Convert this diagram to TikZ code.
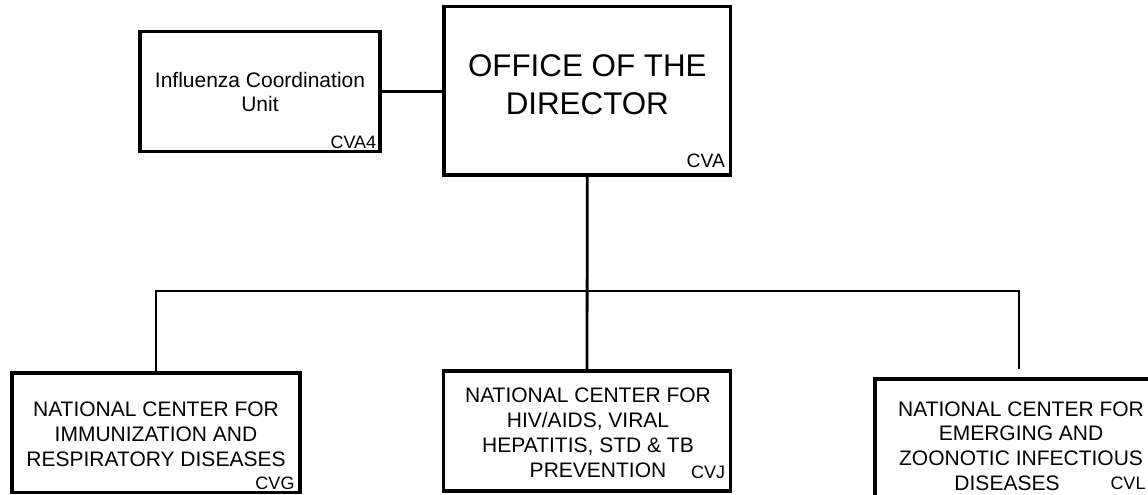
\documentclass[tikz,border=0pt]{standalone}
\usepackage{fontspec}
\setmainfont{Liberation Sans}

\tikzset{every picture/.style={line width=0.75pt}}

\begin{document}
\begin{tikzpicture}[x=0.75pt,y=0.75pt,yscale=-1,xscale=1,
  unitbox/.style={draw, line width=2.6pt, inner sep=0pt},
  unittext/.style={inner sep=0pt, anchor=north, align=center, font=\fontsize{15.75pt}{18.6pt}\selectfont},
  unitcode/.style={inner sep=0pt, anchor=base east, font=\fontsize{13.5pt}{16pt}\selectfont},
  link/.style={line width=2.1pt}]
%set diagram left start at 0, and has height of 495
\useasboundingbox (0,0) rectangle (1148,495);

%Shape: Rectangle [id:dir]
\node [unitbox, minimum width=215pt, minimum height=126.2pt] (dir) at (587.3,90.85) {};
%Shape: Rectangle [id:flu]
\node [unitbox, minimum width=180pt, minimum height=90pt] (flu) at (260,91.7) {};
%Shape: Rectangle [id:ird]
\node [unitbox, minimum width=216pt, minimum height=89.5pt] (ird) at (156,432.6) {};
%Shape: Rectangle [id:hiv]
\node [unitbox, minimum width=215.3pt, minimum height=90pt] (hiv) at (587,431) {};
%Shape: Rectangle [id:ezid]
\node [unitbox, minimum width=216pt, minimum height=90pt] (ezid) at (1019,439) {};

%Straight Lines [id:flu-dir]
\draw [link] (flu.east) -- (flu.east -| dir.west);
%Straight Lines [id:dir-hiv]
\draw [link] (dir.south) -- (hiv.north);
%Straight Lines [id:bus]
\coordinate (bus) at (587.3,291);
\draw [link] (ird.north) |- (bus) -| ([yshift=-6pt]ezid.north);

% Text Node
\node [unittext, font=\fontsize{23.5pt}{28pt}\selectfont] (dirtxt) at (587.3,54.5) {OFFICE OF THE\\DIRECTOR};
% Text Node
\node [unittext] (flutxt) at (260,71.4) {Influenza Coordination\\Unit};
% Text Node
\node [unittext] (irdtxt) at (156,401.7) {NATIONAL CENTER FOR\\IMMUNIZATION AND\\RESPIRATORY DISEASES};
% Text Node
\node [unittext] (hivtxt) at (588,387.7) {NATIONAL CENTER FOR\\HIV/AIDS, VIRAL\\HEPATITIS, STD \& TB\\\hspace*{15pt}PREVENTION};
% Text Node
\node [unittext] (eziddtxt) at (1021,401) {NATIONAL CENTER FOR\\EMERGING AND\\ZOONOTIC INFECTIOUS\\DISEASES\hspace*{21pt}\mbox{}};

% Code Nodes
\node [unitcode, font=\fontsize{14.5pt}{17pt}\selectfont] (dircode) at (725.5,168) {CVA};
\node [unitcode] (flucode) at (376.7,148.3) {CVA4};
\node [unitcode] (irdcode) at (295,489.5) {CVG};
\node [unitcode] (hivcode) at (725.5,478.3) {CVJ};
\node [unitcode] (ezidcode) at (1146,489.3) {CVL};
\end{tikzpicture}
\end{document}
